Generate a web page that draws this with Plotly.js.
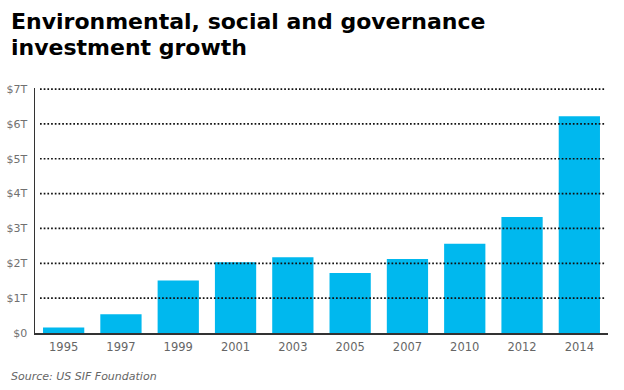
<!DOCTYPE html>
<html>
<head>
<meta charset="utf-8">
<script src="https://cdn.plot.ly/plotly-3.0.1.min.js"></script>
<style>html,body{margin:0;padding:0;background:#fff;}#chart{width:624px;height:390px;}</style>
</head>
<body>
<div id="chart"></div>
<script>
var years = ["1995","1997","1999","2001","2003","2005","2007","2010","2012","2014"];
var values = [0.16, 0.54, 1.51, 2.03, 2.17, 1.72, 2.12, 2.56, 3.33, 6.22];
var tickVals = [0, 1, 2, 3, 4, 5, 6, 7];
var tickText = ["$0", "$1T", "$2T", "$3T", "$4T", "$5T", "$6T", "$7T"];
var titleLine1 = "Environmental, social and governance";
var titleLine2 = "investment growth";
var sourceText = "Source: US SIF Foundation";

var L = 35, R = 16, T = 88, B = 57, W = 624, H = 390;
var plotW = W - L - R, plotH = H - T - B;
function px2px(x){ return (x - L) / plotW; }
function py2py(y){ return (H - B - y) / plotH; }

var shapes = tickVals.filter(function(v){ return v > 0; }).map(function(v){
  return {type:'line', layer:'above', xref:'paper', yref:'y', x0: px2px(40), x1: px2px(606), y0: v, y1: v,
    line:{color:'#111', width:1.7, dash:'1.7px,2px'}};
});

var data = [{
  type:'bar', x: years, y: values,
  marker:{color:'#00b8ee'}, hoverinfo:'skip'
}];

var layout = {
  width: W, height: H,
  margin:{l:L, r:R, t:T, b:B, pad:0},
  paper_bgcolor:'#fff', plot_bgcolor:'#fff',
  bargap: 0.28,
  showlegend:false,
  font:{family:'DejaVu Sans, Verdana, sans-serif', color:'#666', size:11},
  xaxis:{type:'category', showgrid:false, zeroline:false, showline:true, linecolor:'#333', linewidth:1.5,
    ticks:'', ticklabelstandoff:3, tickfont:{size:11.5, color:'#666'}, fixedrange:true},
  yaxis:{range:[0,7.03], tickvals:tickVals, ticktext:tickText, showgrid:false, zeroline:false,
    showline:true, linecolor:'#333', linewidth:1.5, ticks:'', ticklabelstandoff:4,
    tickfont:{size:11, color:'#707070'}, fixedrange:true},
  shapes: shapes,
  annotations:[
    {text:'<b>'+titleLine1+'</b>', xref:'paper', yref:'paper', x:px2px(9), y:py2py(21), xanchor:'left', yanchor:'middle', showarrow:false,
      font:{family:'DejaVu Sans, sans-serif', size:22, color:'#000'}},
    {text:'<b>'+titleLine2+'</b>', xref:'paper', yref:'paper', x:px2px(9), y:py2py(47), xanchor:'left', yanchor:'middle', showarrow:false,
      font:{family:'DejaVu Sans, sans-serif', size:22, color:'#000'}},
    {text:'<i>'+sourceText+'</i>', xref:'paper', yref:'paper', x:px2px(9), y:py2py(376), xanchor:'left', yanchor:'middle', showarrow:false,
      font:{family:'DejaVu Sans, sans-serif', size:11, color:'#666'}}
  ]
};
Plotly.newPlot('chart', data, layout, {displayModeBar:false, staticPlot:true});
</script>
</body>
</html>
